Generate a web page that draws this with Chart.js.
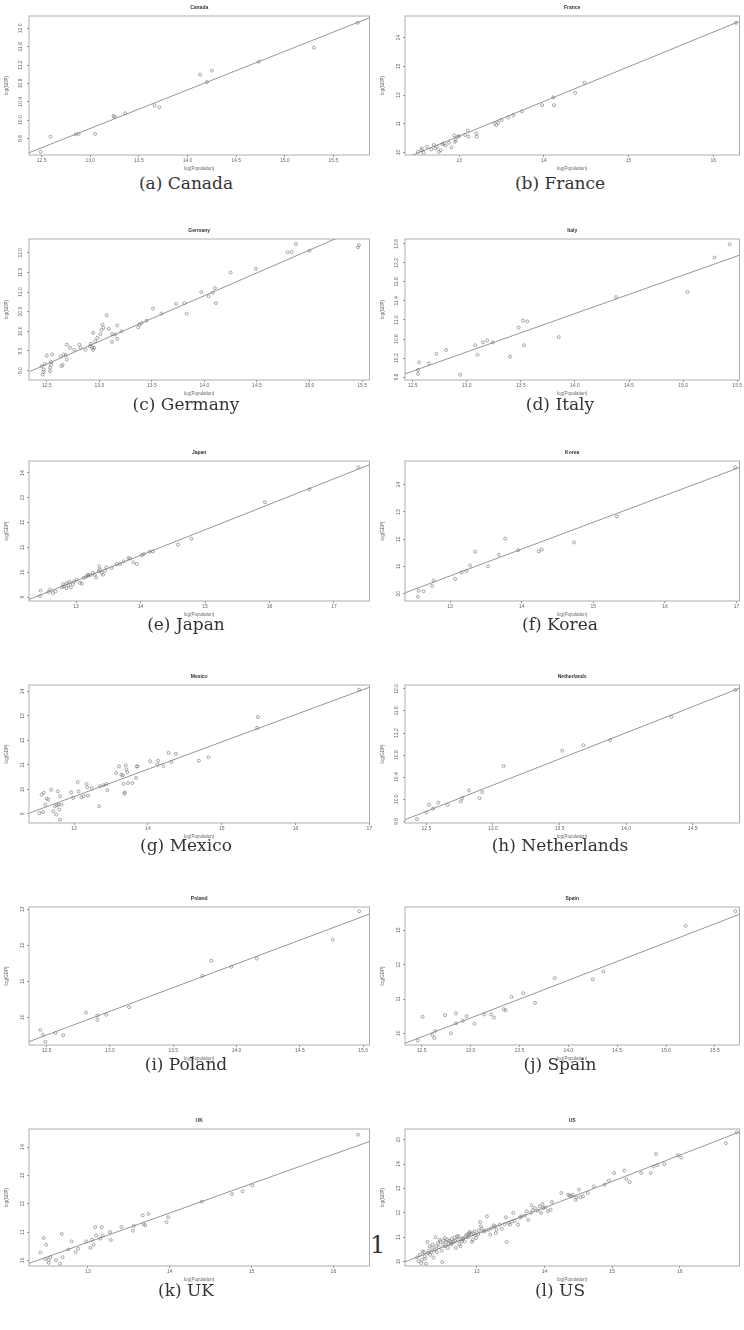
<!DOCTYPE html>
<html>
<head>
<meta charset="utf-8">
<script src="https://cdn.jsdelivr.net/npm/chart.js@4.4.1/dist/chart.umd.min.js"></script>
<style>
  html, body { margin: 0; padding: 0; background: #fff; }
  #page { position: relative; width: 744px; height: 1330px; overflow: hidden; background: #fff; }
  #page canvas { position: absolute; }
  .cap { position: absolute; width: 372px; text-align: center; font-family: "DejaVu Serif", serif; font-size: 17px; line-height: 20px; color: #333; }
  #pageno { position: absolute; left: 370px; top: 1231px; font-family: "DejaVu Serif", serif; font-size: 24px; color: #333; }
</style>
</head>
<body>
<div id="page"><div id="pageno">1</div></div>
<script>
// log(GDP) 对 log(Population) —— 12 个国家，每个国家一张散点 + 回归直线
const countries = ['Canada', 'France', 'Germany', 'Italy', 'Japan', 'Korea',
                   'Mexico', 'Netherlands', 'Poland', 'Spain', 'UK', 'US'];
const captions = ['(a) Canada', '(b) France', '(c) Germany', '(d) Italy', '(e) Japan', '(f) Korea',
                  '(g) Mexico', '(h) Netherlands', '(i) Poland', '(j) Spain', '(k) UK', '(l) US'];

// ===== 数据点 [log(Population), log(GDP)] =====
const canadaPoints = [[12.49,9.31],[12.59,9.64],[12.85,9.69],[12.88,9.70],[13.05,9.70],[13.24,10.09],[13.25,10.07],[13.36,10.15],[13.66,10.32],[13.71,10.28],[14.13,10.99],[14.20,10.83],[14.25,11.08],[14.73,11.27],[15.30,11.58],[15.75,12.12]];
const francePoints = [[12.51,10.02],[12.55,10.08],[12.56,10.14],[12.58,9.99],[12.62,10.20],[12.67,10.11],[12.70,10.26],[12.72,10.14],[12.74,10.20],[12.76,10.02],[12.78,10.08],[12.80,10.29],[12.82,10.31],[12.84,10.24],[12.88,10.34],[12.91,10.17],[12.94,10.59],[12.95,10.37],[12.96,10.43],[12.98,10.55],[13.00,10.57],[13.07,10.61],[13.10,10.76],[13.11,10.55],[13.20,10.66],[13.21,10.55],[13.42,11.01],[13.44,10.95],[13.46,11.04],[13.50,11.13],[13.58,11.22],[13.64,11.30],[13.74,11.43],[13.98,11.65],[14.11,11.92],[14.12,11.65],[14.37,12.08],[14.48,12.43],[16.27,14.52]];
const germanyPoints = [[12.45,9.11],[12.46,8.90],[12.47,9.03],[12.47,8.97],[12.48,9.17],[12.50,9.38],[12.53,9.07],[12.53,8.98],[12.54,9.22],[12.54,9.15],[12.55,9.41],[12.63,9.36],[12.64,9.11],[12.65,9.15],[12.66,9.41],[12.68,9.39],[12.69,9.28],[12.69,9.66],[12.72,9.58],[12.76,9.53],[12.81,9.66],[12.82,9.58],[12.87,9.53],[12.91,9.62],[12.92,9.68],[12.93,9.58],[12.94,9.53],[12.94,9.96],[12.95,9.58],[12.96,9.75],[12.98,9.83],[13.01,9.93],[13.02,10.04],[13.03,10.17],[13.04,10.09],[13.07,10.41],[13.09,10.06],[13.12,9.93],[13.12,9.73],[13.15,9.92],[13.17,10.15],[13.17,9.81],[13.21,10.00],[13.37,10.10],[13.38,10.17],[13.40,10.21],[13.45,10.27],[13.51,10.58],[13.59,10.45],[13.73,10.70],[13.81,10.72],[13.83,10.45],[13.97,11.00],[14.04,10.89],[14.08,10.98],[14.10,11.10],[14.11,10.72],[14.25,11.50],[14.49,11.59],[14.79,12.01],[14.83,12.02],[14.87,12.22],[15.00,12.05],[15.46,12.14],[15.47,12.19]];
const italyPoints = [[12.55,9.95],[12.55,9.87],[12.56,10.11],[12.65,10.09],[12.72,10.29],[12.81,10.37],[12.94,9.85],[13.08,10.47],[13.10,10.27],[13.15,10.53],[13.19,10.57],[13.24,10.53],[13.40,10.23],[13.48,10.84],[13.52,10.99],[13.56,10.97],[13.53,10.47],[13.85,10.64],[14.38,11.48],[15.04,11.59],[15.29,12.31],[15.43,12.59]];
const japanPoints = [[12.44,9.03],[12.45,9.26],[12.57,9.20],[12.60,9.30],[12.64,9.16],[12.68,9.23],[12.78,9.39],[12.80,9.52],[12.81,9.43],[12.85,9.36],[12.86,9.57],[12.88,9.47],[12.90,9.61],[12.92,9.39],[12.95,9.52],[12.97,9.63],[13.01,9.70],[13.06,9.57],[13.09,9.54],[13.12,9.77],[13.16,9.83],[13.18,9.87],[13.19,9.90],[13.22,9.87],[13.26,9.97],[13.29,9.90],[13.31,9.79],[13.35,10.04],[13.36,10.24],[13.37,10.10],[13.40,9.97],[13.42,9.90],[13.45,10.06],[13.47,10.20],[13.55,10.17],[13.63,10.33],[13.68,10.33],[13.74,10.44],[13.81,10.57],[13.84,10.55],[13.89,10.40],[13.94,10.33],[14.02,10.68],[14.05,10.73],[14.14,10.82],[14.19,10.84],[14.58,11.11],[14.79,11.35],[15.93,12.82],[16.62,13.33],[17.38,14.23]];
const koreaPoints = [[12.55,9.89],[12.56,10.11],[12.63,10.09],[12.75,10.29],[12.77,10.48],[13.07,10.54],[13.16,10.78],[13.23,10.84],[13.28,11.03],[13.35,11.54],[13.53,11.00],[13.68,11.43],[13.77,12.02],[13.95,11.60],[14.24,11.55],[14.28,11.62],[14.73,11.88],[15.33,12.83],[16.98,14.64]];
const mexicoPoints = [[12.53,9.03],[12.58,9.08],[12.56,9.79],[12.59,9.86],[12.61,9.38],[12.63,9.63],[12.65,9.58],[12.69,9.99],[12.72,9.11],[12.74,9.31],[12.76,8.97],[12.77,9.35],[12.78,9.92],[12.79,9.38],[12.80,9.18],[12.81,8.77],[12.81,9.72],[12.83,9.38],[12.96,9.88],[12.99,9.65],[13.05,10.30],[13.06,9.92],[13.10,9.68],[13.13,9.72],[13.17,10.22],[13.18,10.09],[13.19,9.75],[13.24,10.06],[13.34,9.31],[13.35,10.13],[13.40,10.17],[13.44,10.22],[13.45,9.97],[13.57,10.67],[13.61,10.94],[13.64,10.60],[13.66,10.58],[13.67,10.22],[13.68,9.83],[13.69,9.88],[13.70,10.98],[13.71,10.81],[13.72,10.70],[13.73,10.26],[13.79,10.26],[13.84,10.47],[13.85,10.94],[13.86,10.94],[14.03,11.15],[14.13,11.01],[14.14,11.17],[14.21,10.94],[14.28,11.49],[14.32,11.12],[14.38,11.45],[14.69,11.17],[14.82,11.31],[15.48,12.51],[15.49,12.95],[16.86,14.07]];
const netherlandsPoints = [[12.43,9.64],[12.50,9.76],[12.52,9.90],[12.55,9.83],[12.59,9.94],[12.66,9.90],[12.76,9.96],[12.77,10.02],[12.82,10.16],[12.90,10.02],[12.92,10.13],[13.08,10.60],[13.52,10.88],[13.68,10.98],[13.88,11.07],[14.34,11.49],[14.82,11.98]];
const polandPoints = [[12.45,9.65],[12.47,9.52],[12.49,9.32],[12.57,9.56],[12.63,9.50],[12.81,10.13],[12.90,10.05],[12.90,9.93],[12.97,10.07],[13.15,10.28],[13.73,11.15],[13.80,11.57],[13.96,11.40],[14.16,11.63],[14.76,12.15],[14.97,12.94]];
const spainPoints = [[12.46,9.79],[12.51,10.48],[12.61,9.95],[12.63,9.86],[12.64,10.07],[12.74,10.53],[12.80,10.00],[12.85,10.58],[12.85,10.29],[12.92,10.37],[12.96,10.50],[13.04,10.28],[13.14,10.55],[13.21,10.55],[13.24,10.46],[13.34,10.70],[13.36,10.67],[13.42,11.06],[13.54,11.17],[13.66,10.89],[13.86,11.61],[14.25,11.57],[14.36,11.80],[15.20,13.13],[15.71,13.56]];
const ukPoints = [[12.42,10.28],[12.46,10.79],[12.49,10.55],[12.48,10.05],[12.52,10.02],[12.52,9.91],[12.54,10.11],[12.61,10.00],[12.66,9.88],[12.68,10.93],[12.69,10.11],[12.76,10.38],[12.80,10.67],[12.85,10.29],[12.88,10.41],[12.98,10.67],[13.03,10.44],[13.05,10.73],[13.07,10.55],[13.09,11.17],[13.10,10.88],[13.15,10.77],[13.17,11.17],[13.18,10.88],[13.27,11.00],[13.28,10.72],[13.41,11.18],[13.55,11.05],[13.56,11.22],[13.67,11.59],[13.68,11.28],[13.70,11.24],[13.74,11.64],[13.96,11.35],[13.98,11.52],[14.39,12.07],[14.76,12.34],[14.89,12.44],[15.01,12.65],[16.30,14.44]];
const usPoints = [[12.12,10.16],[12.14,10.00],[12.16,10.27],[12.18,9.93],[12.19,10.07],[12.20,10.41],[12.22,10.38],[12.23,10.21],[12.24,10.11],[12.25,9.90],[12.27,10.80],[12.28,10.34],[12.29,10.44],[12.30,10.62],[12.31,10.27],[12.33,10.38],[12.34,10.55],[12.35,10.69],[12.36,10.16],[12.38,10.48],[12.39,10.99],[12.40,10.62],[12.41,10.38],[12.43,10.75],[12.44,10.58],[12.45,10.89],[12.46,10.82],[12.48,10.44],[12.49,9.97],[12.50,10.69],[12.51,10.85],[12.53,10.96],[12.53,10.62],[12.54,10.80],[12.56,10.89],[12.57,10.55],[12.58,10.71],[12.59,10.85],[12.61,10.82],[12.62,10.69],[12.63,10.93],[12.64,10.75],[12.66,10.82],[12.67,10.99],[12.68,10.85],[12.69,10.55],[12.71,11.03],[12.72,10.89],[12.73,11.03],[12.74,10.71],[12.76,10.62],[12.77,10.89],[12.78,10.82],[12.79,10.96],[12.80,10.93],[12.82,10.82],[12.84,11.03],[12.85,11.10],[12.87,10.99],[12.88,11.12],[12.89,11.16],[12.90,11.21],[12.92,11.10],[12.93,10.80],[12.94,10.89],[12.95,11.16],[12.97,11.23],[12.98,11.07],[12.99,10.96],[13.02,11.12],[13.03,11.26],[13.05,11.62],[13.06,11.44],[13.07,11.34],[13.10,11.23],[13.12,11.26],[13.15,11.85],[13.17,11.30],[13.20,11.10],[13.22,11.37],[13.25,11.48],[13.27,11.44],[13.28,11.16],[13.29,11.30],[13.34,11.51],[13.37,11.34],[13.41,11.53],[13.43,11.81],[13.44,10.80],[13.47,11.58],[13.49,11.51],[13.52,11.64],[13.54,11.99],[13.56,11.67],[13.61,11.51],[13.64,11.81],[13.66,11.85],[13.71,11.89],[13.74,12.06],[13.76,11.71],[13.80,11.99],[13.81,12.30],[13.83,12.12],[13.86,12.19],[13.90,12.08],[13.93,12.26],[13.95,11.99],[13.97,12.36],[13.98,12.19],[14.01,12.22],[14.05,12.06],[14.09,12.12],[14.11,12.44],[14.25,12.81],[14.35,12.74],[14.37,12.71],[14.40,12.67],[14.42,12.74],[14.46,12.53],[14.47,12.63],[14.51,12.95],[14.53,12.63],[14.57,12.67],[14.64,12.81],[14.73,13.08],[14.89,13.15],[14.95,13.32],[15.03,13.63],[15.18,13.73],[15.21,13.38],[15.26,13.26],[15.43,13.63],[15.57,13.63],[15.61,13.90],[15.65,14.41],[15.67,13.95],[15.77,14.00],[15.97,14.36],[16.02,14.27],[16.68,14.86],[16.84,15.30]];

// ===== 回归直线端点 [x0, y0, x1, y1] =====
const canadaFit = [12.37, 9.29, 15.88, 12.24];
const franceFit = [12.42, 9.87, 16.35, 14.62];
const germanyFit = [12.34, 8.98, 15.26, 12.37];
const italyFit = [12.42, 9.86, 15.52, 12.36];
const japanFit = [12.24, 8.87, 17.58, 14.36];
const koreaFit = [12.36, 10.02, 17.08, 14.67];
const mexicoFit = [12.40, 9.04, 17.03, 14.20];
const netherlandsFit = [12.34, 9.63, 14.87, 12.03];
const polandFit = [12.35, 9.31, 15.07, 12.89];
const spainFit = [12.33, 9.71, 15.79, 13.51];
const ukFit = [12.26, 9.87, 16.46, 14.22];
const usFit = [11.93, 9.97, 16.93, 15.37];

// ===== 坐标范围 [xmin, xmax, ymin, ymax] =====
const canadaRange = [12.37, 15.87, 9.24, 12.27];
const franceRange = [12.36, 16.31, 9.91, 14.76];
const germanyRange = [12.33, 15.57, 8.76, 12.35];
const italyRange = [12.43, 15.52, 9.74, 12.70];
const japanRange = [12.27, 17.55, 8.84, 14.48];
const koreaRange = [12.37, 17.04, 9.73, 14.87];
const mexicoRange = [12.39, 17.00, 8.63, 14.26];
const netherlandsRange = [12.34, 14.85, 9.57, 12.07];
const polandRange = [12.36, 15.05, 9.23, 13.06];
const spainRange = [12.33, 15.75, 9.66, 13.68];
const ukRange = [12.28, 16.44, 9.80, 14.64];
const usRange = [11.94, 16.88, 9.81, 15.44];

// ===== 刻度 =====
const canadaXTicks = [12.5, 13, 13.5, 14, 14.5, 15, 15.5];
const canadaYTicks = [9.6, 10, 10.4, 10.8, 11.2, 11.6, 12];
const franceXTicks = [13, 14, 15, 16];
const franceYTicks = [10, 11, 12, 13, 14];
const germanyXTicks = [12.5, 13, 13.5, 14, 14.5, 15, 15.5];
const germanyYTicks = [9, 9.5, 10, 10.5, 11, 11.5, 12];
const italyXTicks = [12.5, 13, 13.5, 14, 14.5, 15, 15.5];
const italyYTicks = [9.8, 10.2, 10.6, 11, 11.4, 11.8, 12.2, 12.6];
const japanXTicks = [13, 14, 15, 16, 17];
const japanYTicks = [9, 10, 11, 12, 13, 14];
const koreaXTicks = [13, 14, 15, 16, 17];
const koreaYTicks = [10, 11, 12, 13, 14];
const mexicoXTicks = [13, 14, 15, 16, 17];
const mexicoYTicks = [9, 10, 11, 12, 13, 14];
const netherlandsXTicks = [12.5, 13, 13.5, 14, 14.5];
const netherlandsYTicks = [9.6, 10, 10.4, 10.8, 11.2, 11.6, 12];
const polandXTicks = [12.5, 13, 13.5, 14, 14.5, 15];
const polandYTicks = [10, 11, 12, 13];
const spainXTicks = [12.5, 13, 13.5, 14, 14.5, 15, 15.5];
const spainYTicks = [10, 11, 12, 13];
const ukXTicks = [13, 14, 15, 16];
const ukYTicks = [10, 11, 12, 13, 14];
const usXTicks = [13, 14, 15, 16];
const usYTicks = [10, 11, 12, 13, 14, 15];

const pointSets = [canadaPoints, francePoints, germanyPoints, italyPoints, japanPoints, koreaPoints,
                   mexicoPoints, netherlandsPoints, polandPoints, spainPoints, ukPoints, usPoints];
const fits = [canadaFit, franceFit, germanyFit, italyFit, japanFit, koreaFit,
              mexicoFit, netherlandsFit, polandFit, spainFit, ukFit, usFit];
const ranges = [canadaRange, franceRange, germanyRange, italyRange, japanRange, koreaRange,
                mexicoRange, netherlandsRange, polandRange, spainRange, ukRange, usRange];
const xTicks = [canadaXTicks, franceXTicks, germanyXTicks, italyXTicks, japanXTicks, koreaXTicks,
                mexicoXTicks, netherlandsXTicks, polandXTicks, spainXTicks, ukXTicks, usXTicks];
const yTicks = [canadaYTicks, franceYTicks, germanyYTicks, italyYTicks, japanYTicks, koreaYTicks,
                mexicoYTicks, netherlandsYTicks, polandYTicks, spainYTicks, ukYTicks, usYTicks];

// ===== 版面：每行绘图框的上下边（页面像素），左右两列 =====
const rowBox = [[16, 155], [239, 380], [461, 601], [685, 823], [907, 1045], [1129, 1266]];
const capY = [173, 394, 614, 835, 1054, 1280];
const colCanvas = [{ left: 0, width: 374, padR: 4, capLeft: 0 }, { left: 376, width: 368, padR: 3, capLeft: 374 }];
const TOP = 18, BOTTOM = 18, YAXIS = 29;
const FONT = 'Liberation Sans, Arial, sans-serif';

// R 的 box()：绘图区四周画框
const framePlugin = {
    id: 'frame',
    afterDraw(chart) {
        const a = chart.chartArea, ctx = chart.ctx;
        ctx.save();
        ctx.strokeStyle = '#9a9a9a';
        ctx.lineWidth = 0.8;
        ctx.strokeRect(a.left, a.top, a.right - a.left, a.bottom - a.top);
        ctx.restore();
    }
};

const fmt = ticks => {
    const allInt = ticks.every(Number.isInteger);
    return v => allInt ? String(v) : Number(v).toFixed(1);
};

const page = document.getElementById('page');

countries.forEach((name, i) => {
    const row = Math.floor(i / 2), col = colCanvas[i % 2];
    const [bTop, bBot] = rowBox[row];
    const h = (bBot - bTop) + TOP + BOTTOM;

    const cv = document.createElement('canvas');
    cv.width = col.width; cv.height = h;
    cv.style.left = col.left + 'px'; cv.style.top = (bTop - TOP) + 'px';
    cv.style.width = col.width + 'px'; cv.style.height = h + 'px';
    page.appendChild(cv);

    const cap = document.createElement('div');
    cap.className = 'cap';
    cap.style.left = col.capLeft + 'px';
    cap.style.top = capY[row] + 'px';
    cap.textContent = captions[i];
    page.appendChild(cap);

    const [xmin, xmax, ymin, ymax] = ranges[i];
    const f = fits[i], xt = xTicks[i], yt = yTicks[i];
    const xFmt = fmt(xt), yFmt = fmt(yt);

    new Chart(cv.getContext('2d'), {
        type: 'scatter',
        data: {
            datasets: [{
                data: pointSets[i].map(p => ({ x: p[0], y: p[1] })),
                pointStyle: 'circle',
                pointRadius: 1.5,
                borderWidth: 0.6,
                borderColor: '#6e6e6e',
                backgroundColor: 'rgba(0,0,0,0)'
            }, {
                type: 'line',
                data: [{ x: f[0], y: f[1] }, { x: f[2], y: f[3] }],
                borderColor: '#8a8a8a',
                borderWidth: 0.9,
                pointRadius: 0,
                fill: false
            }]
        },
        plugins: [framePlugin],
        options: {
            responsive: false,
            animation: false,
            events: [],
            layout: { padding: { left: 0, right: col.padR, top: 0, bottom: 0 } },
            plugins: {
                legend: { display: false },
                tooltip: { enabled: false },
                title: {
                    display: true, text: name, fullSize: false, color: '#333',
                    font: { family: FONT, size: 5, weight: 'bold', lineHeight: 1.2 },
                    padding: { top: 7, bottom: 5 }
                }
            },
            scales: {
                x: {
                    type: 'linear', min: xmin, max: xmax,
                    afterBuildTicks: s => { s.ticks = xt.map(v => ({ value: v })); },
                    afterFit: s => { s.height = BOTTOM; },
                    ticks: { autoSkip: false, maxRotation: 0, padding: 1, color: '#666',
                             font: { family: FONT, size: 5 }, callback: v => xFmt(v) },
                    grid: { drawOnChartArea: false, tickLength: 2, color: '#999' },
                    border: { display: false },
                    title: { display: true, text: 'log(Population)', color: '#666',
                             font: { family: FONT, size: 4.5 }, padding: { top: 0, bottom: 2 } }
                },
                y: {
                    type: 'linear', min: ymin, max: ymax,
                    afterBuildTicks: s => { s.ticks = yt.map(v => ({ value: v })); },
                    afterFit: s => { s.width = YAXIS; },
                    ticks: { autoSkip: false, minRotation: 90, maxRotation: 90, crossAlign: 'center',
                             padding: 2, color: '#666', font: { family: FONT, size: 5 },
                             callback: v => yFmt(v) },
                    grid: { drawOnChartArea: false, tickLength: 2, color: '#999' },
                    border: { display: false },
                    title: { display: true, text: 'log(GDP)', color: '#666',
                             font: { family: FONT, size: 4.5 }, padding: { top: 4, bottom: 0 } }
                }
            }
        }
    });
});
</script>
</body>
</html>
